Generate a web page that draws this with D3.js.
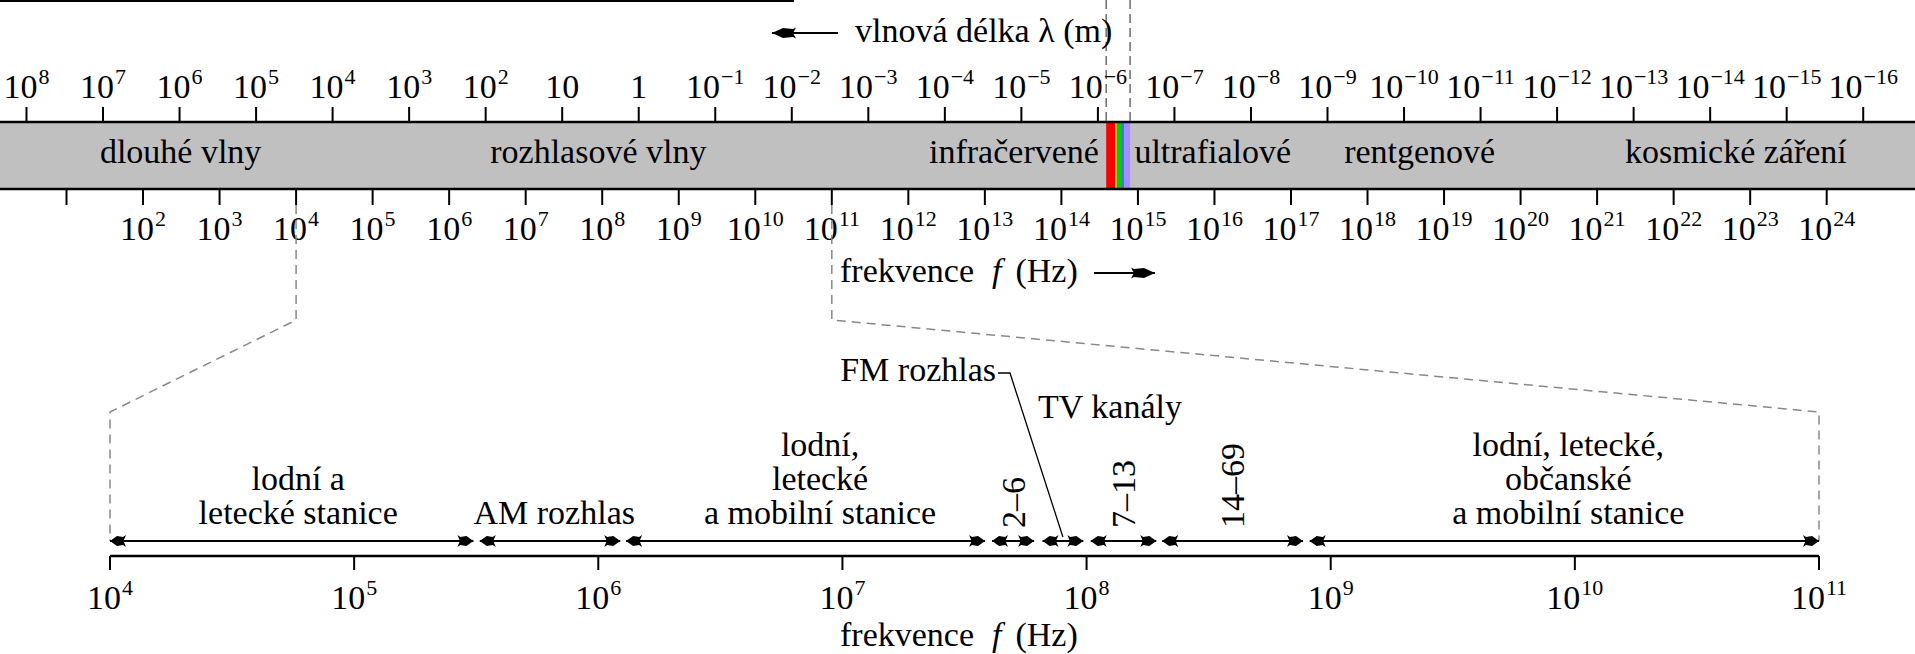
<!DOCTYPE html>
<html><head><meta charset="utf-8">
<script src="https://cdn.jsdelivr.net/npm/d3@7"></script>
<style>
html,body{margin:0;padding:0;background:#fff;overflow:hidden;}
svg{display:block;}
text{font-family:"Liberation Serif","Times New Roman",serif;fill:#000;}
</style></head><body>
<svg id="c" width="1915" height="654"></svg>
<script>
// ---------- data ----------
const SPEED_OF_LIGHT = 3e8; // m/s
const wavelengthExponents = [8,7,6,5,4,3,2,1,0,-1,-2,-3,-4,-5,-6,-7,-8,-9,-10,-11,-12,-13,-14,-15,-16];
const frequencyTickExponents = [1,2,3,4,5,6,7,8,9,10,11,12,13,14,15,16,17,18,19,20,21,22,23,24];
const frequencyLabelExponents = [2,3,4,5,6,7,8,9,10,11,12,13,14,15,16,17,18,19,20,21,22,23,24];
const bandNames = ["dlouhé vlny","rozhlasové vlny","infračervené","ultrafialové","rentgenové","kosmické záření"];
const bandLabelHz = [3.1e2, 8.9e7, 2.4e13, 9.5e15, 4.8e18, 6.5e22];
const visibleFromNm = [780, 590, 570, 500, 455];
const visibleToNm   = [590, 570, 500, 455, 380];
const visibleColors = ["#ff0000","#f0f000","#00d000","#4a6cff","#a58cff"];
const zoomFromHz = 1e4, zoomToHz = 1e11;
const zoomTickExponents = [4,5,6,7,8,9,10,11];
const allocationNames = ["lodní a letecké stanice","AM rozhlas","lodní, letecké a mobilní stanice","TV 2–6","FM rozhlas","TV 7–13","TV 14–69","lodní, letecké, občanské a mobilní stanice"];
const allocationStartHz = [1e4, 3.27e5, 1.30e6, 4.1e7, 6.6e7, 1.04e8, 2.04e8, 8.2e8];
const allocationEndHz   = [3.08e5, 1.23e6, 3.84e7, 6.1e7, 9.7e7, 1.93e8, 7.7e8, 1e11];
const allocationLabelHz = [5.9e4, 6.6e5, 8.1e6, null, null, null, null, 9.4e9];
const allocationLabelLines = [["lodní a","letecké stanice"],["AM rozhlas"],["lodní,","letecké","a mobilní stanice"],["2–6"],[],["7–13"],["14–69"],["lodní, letecké,","občanské","a mobilní stanice"]];
const allocationRotated = [false,false,false,true,false,true,true,false];
const fmLabel = "FM rozhlas", tvLabel = "TV kanály";
const wavelengthTitle = "vlnová délka λ (m)";
const FS = 34, SUP = 22;

// ---------- scales ----------
const svg = d3.select("#c");
const xF = d3.scaleLog().domain([1e1, 1e24]).range([66.5, 1826.7]);
const xZ = d3.scaleLog().domain([zoomFromHz, zoomToHz]).range([110, 1819]);
const lambdaToHz = l => SPEED_OF_LIGHT / l;

const Y = {bandTop:122, bandBot:189, topTick:107, topLabel:98, botTick:205, botLabel:240,
  arrow:541, axis:556, axisTick:570, zLabel:609, zTitle:646};

const defs = svg.append("defs");
function marker(id, len, hw, d){
  defs.append("marker").attr("id",id).attr("viewBox",`0 ${-hw} ${len} ${2*hw}`)
    .attr("refX",len).attr("refY",0).attr("markerUnits","userSpaceOnUse")
    .attr("markerWidth",len).attr("markerHeight",2*hw).attr("orient","auto-start-reverse")
    .append("path").attr("d",d).attr("fill","#000");
}
marker("ah", 16, 6, "M0,-6 L3,-4 L9,-5 L16,0 L9,5 L3,4 L0,6 L2.5,0 Z");
marker("big", 24, 6, "M0,-5.5 L3,-4 L13,-5 L24,0 L13,5 L3,4 L0,5.5 L3,0 Z");

function powerLabel(sel, x, y, exp, size, sup){
  const t = sel.append("text").attr("x",x).attr("y",y).attr("text-anchor","middle").attr("font-size",size);
  if (exp === 0) { t.text("1"); return t; }
  if (exp === 1) { t.text("10"); return t; }
  t.append("tspan").text("10");
  t.append("tspan").attr("font-size",sup).attr("dx",1).attr("dy",-size*0.4).text(exp<0 ? "−"+(-exp) : String(exp));
  return t;
}

// top frame line
svg.append("line").attr("x1",0).attr("x2",794).attr("y1",1).attr("y2",1).attr("stroke","#000").attr("stroke-width",2);

// band
svg.append("rect").attr("x",0).attr("y",Y.bandTop).attr("width",1915).attr("height",Y.bandBot-Y.bandTop).attr("fill","#c0c0c0");
svg.append("g").selectAll("rect").data(visibleColors).join("rect")
  .attr("x",(d,i)=>xF(lambdaToHz(visibleFromNm[i]*1e-9)))
  .attr("width",(d,i)=>xF(lambdaToHz(visibleToNm[i]*1e-9))-xF(lambdaToHz(visibleFromNm[i]*1e-9)))
  .attr("y",Y.bandTop).attr("height",Y.bandBot-Y.bandTop).attr("fill",d=>d);
svg.append("line").attr("x1",0).attr("x2",1915).attr("y1",Y.bandTop).attr("y2",Y.bandTop).attr("stroke","#000").attr("stroke-width",2.5);
svg.append("line").attr("x1",0).attr("x2",1915).attr("y1",Y.bandBot).attr("y2",Y.bandBot).attr("stroke","#000").attr("stroke-width",2.5);

[visibleFromNm[0], visibleToNm[visibleToNm.length-1]].forEach(nm=>{
  const x = xF(lambdaToHz(nm*1e-9));
  svg.append("line").attr("x1",x).attr("x2",x).attr("y1",0).attr("y2",Y.bandTop)
    .attr("stroke","#555").attr("stroke-width",1.3).attr("stroke-dasharray","9,5");
});

// wavelength axis
const gW = svg.append("g");
wavelengthExponents.forEach(e=>{
  const x = xF(lambdaToHz(Math.pow(10,e)));
  gW.append("line").attr("x1",x).attr("x2",x).attr("y1",Y.topTick).attr("y2",Y.bandTop).attr("stroke","#000").attr("stroke-width",2);
  powerLabel(gW, x, Y.topLabel, e, FS, SUP);
});
// frequency axis
const gF = svg.append("g");
frequencyTickExponents.forEach(e=>{
  const x = xF(Math.pow(10,e));
  gF.append("line").attr("x1",x).attr("x2",x).attr("y1",Y.bandBot).attr("y2",Y.botTick).attr("stroke","#000").attr("stroke-width",2);
});
frequencyLabelExponents.forEach(e=> powerLabel(gF, xF(Math.pow(10,e)), Y.botLabel, e, FS, SUP));

bandNames.forEach((n,i)=> svg.append("text").attr("x",xF(bandLabelHz[i])).attr("y",163).attr("text-anchor","middle").attr("font-size",FS).text(n));

// titles with arrows
svg.append("text").attr("x",855).attr("y",42).attr("font-size",FS).text(wavelengthTitle);
svg.append("line").attr("x1",838).attr("x2",772).attr("y1",33).attr("y2",33).attr("stroke","#000").attr("stroke-width",2).attr("marker-end","url(#big)");
function freqTitle(x, y, anchor){
  const t = svg.append("text").attr("x",x).attr("y",y).attr("font-size",FS).attr("text-anchor",anchor);
  t.append("tspan").text("frekvence");
  t.append("tspan").attr("font-style","italic").attr("dx",18).text("f");
  t.append("tspan").attr("dx",14).text("(Hz)");
  return t;
}
freqTitle(840, 282, "start");
svg.append("line").attr("x1",1094).attr("x2",1155).attr("y1",273).attr("y2",273).attr("stroke","#000").attr("stroke-width",2).attr("marker-end","url(#big)");

// zoom connectors
[zoomFromHz, zoomToHz].forEach(hz=>{
  svg.append("path").attr("d",`M${xF(hz)},${Y.botTick} V320 L${xZ(hz)},412 V${Y.arrow}`)
    .attr("fill","none").attr("stroke","#888").attr("stroke-width",1.5).attr("stroke-dasharray","9,6");
});

// zoom axis
svg.append("line").attr("x1",xZ(zoomFromHz)).attr("x2",xZ(zoomToHz)).attr("y1",Y.axis).attr("y2",Y.axis).attr("stroke","#000").attr("stroke-width",2.5);
zoomTickExponents.forEach(e=>{
  const x = xZ(Math.pow(10,e));
  svg.append("line").attr("x1",x).attr("x2",x).attr("y1",Y.axis).attr("y2",Y.axisTick).attr("stroke","#000").attr("stroke-width",2);
  powerLabel(svg, x, Y.zLabel, e, FS, SUP);
});
freqTitle(840, Y.zTitle, "start");

// allocations
allocationNames.forEach((n,i)=>{
  const x1 = xZ(allocationStartHz[i]), x2 = xZ(allocationEndHz[i]);
  svg.append("line").attr("x1",x1).attr("x2",x2).attr("y1",Y.arrow).attr("y2",Y.arrow)
    .attr("stroke","#000").attr("stroke-width",2).attr("marker-start","url(#ah)").attr("marker-end","url(#ah)");
  const lines = allocationLabelLines[i];
  if (!lines.length) return;
  const cx = allocationLabelHz[i] ? xZ(allocationLabelHz[i]) : xZ(Math.sqrt(allocationStartHz[i]*allocationEndHz[i]));
  if (allocationRotated[i]) {
    svg.append("text").attr("transform",`translate(${cx},528) rotate(-90)`).attr("dy","0.35em").attr("font-size",FS).text(lines[0]);
  } else {
    lines.forEach((l,j)=> svg.append("text").attr("x",cx).attr("y",524-(lines.length-1-j)*34).attr("text-anchor","middle").attr("font-size",FS).text(l));
  }
});
// FM label + leader
const fmIdx = allocationNames.indexOf("FM rozhlas");
const fmX = xZ(Math.sqrt(allocationStartHz[fmIdx]*allocationEndHz[fmIdx]));
svg.append("text").attr("x",996).attr("y",381).attr("text-anchor","end").attr("font-size",FS).text(fmLabel);
svg.append("path").attr("d",`M998,373 H1010 L${fmX},537`).attr("fill","none").attr("stroke","#000").attr("stroke-width",1.3);
svg.append("text").attr("x",1110).attr("y",418).attr("text-anchor","middle").attr("font-size",FS).text(tvLabel);
</script>
</body></html>
